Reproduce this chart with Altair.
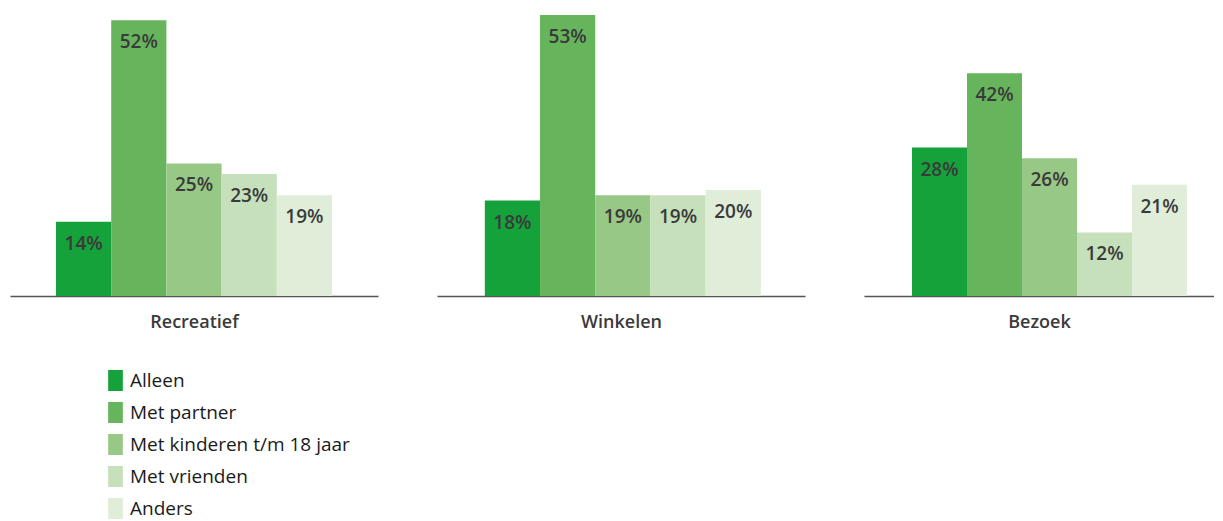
import altair as alt
import pandas as pd

purposes = ["Recreatief", "Winkelen", "Bezoek"]
groups = ["Alleen", "Met partner", "Met kinderen t/m 18 jaar", "Met vrienden", "Anders"]
colors = ["#15a23a", "#66b55c", "#97c886", "#c6e0bb", "#e0edd9"]
recreatief = [14, 52, 25, 23, 19]
winkelen = [18, 53, 19, 19, 20]
bezoek = [28, 42, 26, 12, 21]

series = {"Recreatief": recreatief, "Winkelen": winkelen, "Bezoek": bezoek}

FONT = "Open Sans"

rows = []
for p in purposes:
    for g, v in zip(groups, series[p]):
        rows.append({"purpose": p, "group": g, "value": v, "label": f"{v}%"})
df = pd.DataFrame(rows)

legend_shape = "M-0.7,-1L0.7,-1L0.7,1L-0.7,1Z"


def panel(purpose, width, pad_outer, align):
    base = alt.Chart(df).transform_filter(alt.datum.purpose == purpose)
    x = alt.X(
        "group:N",
        sort=groups,
        scale=alt.Scale(paddingInner=0, paddingOuter=pad_outer, align=align),
        axis=alt.Axis(
            labels=False, ticks=False, domain=True, domainColor="#555555",
            domainWidth=1.5, title=purpose, titleFont=FONT, titleFontSize=18,
            titleFontWeight=600, titleColor="#3a3a3a", titlePadding=17,
        ),
    )
    y = alt.Y("value:Q", scale=alt.Scale(domain=[0, 53], nice=False), axis=None)
    bars = base.mark_bar().encode(
        x=x,
        y=y,
        color=alt.Color(
            "group:N",
            sort=groups,
            scale=alt.Scale(domain=groups, range=colors),
            legend=alt.Legend(
                title=None, orient="none", legendX=95, legendY=355,
                symbolType=legend_shape, symbolSize=441, symbolStrokeWidth=0,
                labelFont=FONT, labelFontSize=19, labelColor="#1a1a1a",
                labelOffset=4, rowPadding=11, direction="vertical",
                labelLimit=400,
            ),
        ),
    )
    text = base.mark_text(
        baseline="middle", dy=22, font=FONT, fontSize=19, fontWeight=600,
        color="#3a3a3a",
    ).encode(x=alt.X("group:N", sort=groups), y=y, text="label:N")
    return alt.layer(bars, text).properties(width=width, height=281)


chart = alt.hconcat(
    panel("Recreatief", 368, 0.833, 0.5),
    panel("Winkelen", 368, 0.833, 0.52),
    panel("Bezoek", 350, 0.682, 0.64),
    spacing=59,
).properties(
    padding={"left": 2, "top": 7, "right": 0, "bottom": 0}
).configure_view(stroke=None)

chart.save("out.html", embed_options={"renderer": "svg", "actions": False})
